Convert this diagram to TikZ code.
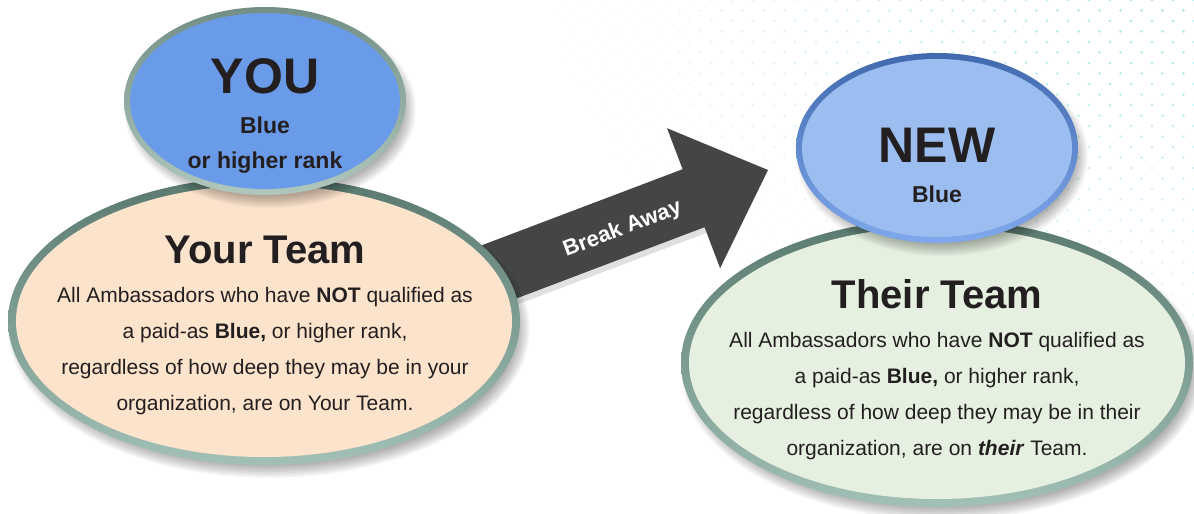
\documentclass[tikz,border=0pt]{standalone}
\usepackage{fontspec}
\setmainfont{Liberation Sans}
\usetikzlibrary{shapes.geometric}

\definecolor{ink}{HTML}{231F20}
\definecolor{peach}{HTML}{FCE3CC}
\definecolor{mint}{HTML}{E6F0E0}
\definecolor{youblue}{HTML}{6A9BE8}
\definecolor{newblue}{HTML}{9BBDF0}
\definecolor{ringdark}{HTML}{5A7A6F}
\definecolor{ringlight}{HTML}{A2C0B6}
\definecolor{youringdark}{HTML}{738F85}
\definecolor{youringlight}{HTML}{AFC7BD}
\definecolor{newringdark}{HTML}{4169AE}
\definecolor{newringlight}{HTML}{80A8EC}
\definecolor{arrowgray}{HTML}{444547}
\definecolor{dotcyan}{HTML}{94E2E8}

% soft shadow under an ellipse: centre x, centre y, x radius, y radius
\newcommand\ellshadow[4]{%
  \foreach \k in {0,...,9}{%
    \fill[black,opacity=0.035]
      ({#1+5},{#2-8}) ellipse [x radius={(#3+5-1.5*\k)*1pt}, y radius={(#4+5-1.5*\k)*1pt}];
  }%
}

\tikzset{
  oval/.style={ellipse, inner sep=0pt, outer sep=0pt, draw=none},
  line/.style={anchor=base, inner sep=0pt, text=ink, font=\fontsize{21}{25}\selectfont},
  teamtitle/.style={anchor=base, inner sep=0pt, text=ink, font=\fontsize{40}{44}\selectfont\bfseries},
  rankbig/.style={anchor=base, inner sep=0pt, text=ink, font=\fontsize{50}{54}\selectfont\bfseries},
  ranksmall/.style={anchor=base, inner sep=0pt, text=ink, font=\fontsize{23}{27}\selectfont\bfseries},
}

\begin{document}
\begin{tikzpicture}[x=1pt,y=1pt]
\useasboundingbox (0,0) rectangle (1194,-514);
\fill[white] (0,0) rectangle (1194,-514);

% faint dotted texture in the upper right
\foreach \r in {0,...,36}{%
  \foreach \c in {0,...,34}{%
    \pgfmathsetmacro\px{480+\c*21+mod(\r,2)*10.5}%
    \pgfmathsetmacro\py{\r*10.5}%
    \pgfmathsetmacro\op{0.95*(1-sqrt(((1194-\px)/660)^2+((\py+30)/430)^2))}%
    \ifdim\op pt>0.02pt
      \fill[dotcyan,opacity=\op] (\px,-\py) circle [radius=1.3pt];
    \fi
  }%
}

% Break Away arrow
\coordinate (tip) at (768,-170);
\begin{scope}[shift={(tip)}, rotate=20.75]
  \fill[black,opacity=0.12] (-79.6,-37) -- (-320,-37) -- (-320,-31) -- (-79.6,-31) -- cycle;
  \fill[arrowgray] (0,0) -- (-79.6,74.85) -- (-79.6,31) -- (-320,31) -- (-320,-31)
    -- (-79.6,-31) -- (-79.6,-74.85) -- cycle;
  \node[text=white, font=\fontsize{22}{26}\selectfont\bfseries, inner sep=0pt, transform shape]
    (breakaway) at (-157,-4) {Break Away};
\end{scope}

% Your Team
\ellshadow{264}{-321}{256}{144}
\node[oval, minimum width=512pt, minimum height=288pt,
      top color=ringdark, bottom color=ringlight] (yourteam) at (264,-321) {};
\node[oval, minimum width=496pt, minimum height=272pt, fill=peach] (yourteamin) at (yourteam) {};
\node[teamtitle] (yt0) at (265,-263) {Your Team};
\node[line] (yt1) at (265,-302) {All Ambassadors who have \textbf{NOT} qualified as};
\node[line] (yt2) at (265,-338) {a paid-as \textbf{Blue,} or higher rank,};
\node[line] (yt3) at (265,-374) {regardless of how deep they may be in your};
\node[line] (yt4) at (265,-410) {organization, are on Your Team.};

% YOU
\ellshadow{265}{-101}{141}{94}
\node[oval, minimum width=282pt, minimum height=188pt,
      top color=youringdark, bottom color=youringlight] (you) at (265,-101) {};
\node[oval, minimum width=270pt, minimum height=176pt, fill=youblue] (youin) at (you) {};
\node[rankbig] (you1) at (265,-93) {YOU};
\node[ranksmall] (you2) at (265,-133) {Blue};
\node[ranksmall] (you3) at (265,-168) {or higher rank};

% Their Team
\ellshadow{937}{-363}{256}{144}
\node[oval, minimum width=512pt, minimum height=288pt,
      top color=ringdark, bottom color=ringlight] (theirteam) at (937,-363) {};
\node[oval, minimum width=496pt, minimum height=272pt, fill=mint] (theirteamin) at (theirteam) {};
\node[teamtitle] (tt0) at (937,-308) {Their Team};
\node[line] (tt1) at (937,-347) {All Ambassadors who have \textbf{NOT} qualified as};
\node[line] (tt2) at (937,-383) {a paid-as \textbf{Blue,} or higher rank,};
\node[line] (tt3) at (937,-419) {regardless of how deep they may be in their};
\node[line] (tt4) at (937,-455) {organization, are on \textbf{\textit{their}} Team.};

% NEW
\ellshadow{937}{-148}{141}{95}
\node[oval, minimum width=282pt, minimum height=190pt,
      top color=newringdark, bottom color=newringlight] (new) at (937,-148) {};
\node[oval, minimum width=270pt, minimum height=178pt, fill=newblue] (newin) at (new) {};
\node[rankbig] (new1) at (937,-162) {NEW};
\node[ranksmall] (new2) at (937,-202) {Blue};
\end{tikzpicture}
\end{document}
